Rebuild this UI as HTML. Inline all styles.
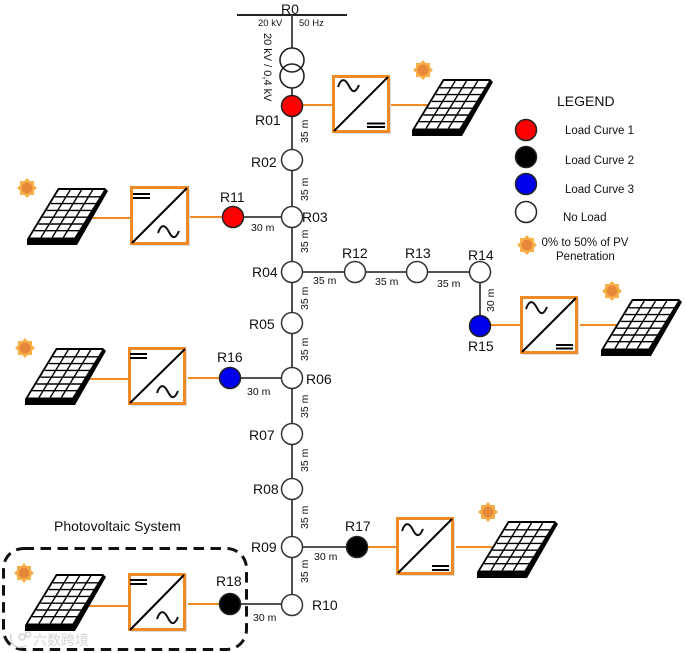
<!DOCTYPE html>
<html><head><meta charset="utf-8"><style>
html,body{margin:0;padding:0;background:#fff;width:685px;height:653px;overflow:hidden}
svg{display:block;filter:blur(.35px)}
text{font-family:"Liberation Sans","Noto Sans CJK SC",sans-serif;fill:#111}
.n{font-size:14px}.d{font-size:10.5px}.l{font-size:11.500px}
</style></head><body>
<svg width="685" height="653" viewBox="0 0 685 653" xmlns="http://www.w3.org/2000/svg">
<defs>
<g id="panel">
<path d="M0 57 L0 51 L31 0 L78 0 L81 3 L50 57 Z" fill="#000"/>
<path d="M3 49.500 L32 2 L77 2 L47.500 49.500 Z" fill="#fff"/>
<g stroke="#000" stroke-width="1.400" fill="none">
<path d="M14 49.500 L43.200 2 M25.200 49.500 L54.500 2 M36.400 49.500 L65.700 2"/>
<path d="M28 8.800 L73 8.800 M24 15.600 L69 15.600 M19.800 22.400 L65 22.400 M15.600 29.200 L60.500 29.200 M11.400 36 L56.300 36 M7.200 42.700 L52 42.700"/>
</g>
</g>
<g id="sun">
<path d="M0 -10 L2.800 -7 L7 -7 L7 -2.800 L10 0 L7 2.800 L7 7 L2.800 7 L0 10 L-2.800 7 L-7 7 L-7 2.800 L-10 0 L-7 -2.800 L-7 -7 L-2.800 -7 Z" fill="#f7b04a"/>
<circle r="5.500" fill="#e8873a"/>
</g>
<path id="w" d="M0 6 C3 -3 7 -3 11 5 C15 13 18 11 21 4" fill="none" stroke="#111" stroke-width="2"/>
</defs>

<!-- lines -->
<g stroke="#3a3a3a" stroke-width="1.800" fill="none">
<path d="M237 15 H347" stroke="#222" stroke-width="2"/>
<path d="M292 15 V48 M292 88 V96 M292 116 V605"/>
<path d="M233 217 H292 M230 378 H292 M292 272 H480 M480 272 V326 M292 547 H357 M230 604 H292"/>
</g>
<!-- orange connectors -->
<g stroke="#f08a24" stroke-width="2" fill="none">
<path d="M302 105 H333 M391 105 H435"/>
<path d="M88 218 H131 M190 217 H223"/>
<path d="M88 379 H129 M188 378 H220"/>
<path d="M490 325 H521 M580 325 H625"/>
<path d="M366 547 H397 M456 547 H500"/>
<path d="M88 606 H129 M188 604 H220"/>
</g>
<!-- panels -->
<use href="#panel" x="412" y="79"/>
<use href="#panel" x="27" y="188"/>
<use href="#panel" x="25" y="348"/>
<use href="#panel" x="601" y="299"/>
<use href="#panel" x="477" y="521"/>
<use href="#panel" x="25" y="574"/>
<!-- suns -->
<use href="#sun" x="423" y="70"/>
<use href="#sun" x="27" y="188"/>
<use href="#sun" x="25" y="348"/>
<use href="#sun" x="612" y="291"/>
<use href="#sun" x="488" y="512"/>
<use href="#sun" x="24" y="573"/>
<use href="#sun" x="527" y="245"/>
<!-- inverters -->
<g fill="#ddd">
<rect x="335" y="78" width="56" height="56"/>
<rect x="133" y="189" width="57" height="57"/>
<rect x="131" y="350" width="56" height="56"/>
<rect x="523" y="298" width="56" height="57"/>
<rect x="399" y="520" width="56" height="56"/>
<rect x="131" y="575" width="56" height="57"/>
</g>
<g fill="#fff" stroke="#f08a24" stroke-width="3">
<rect x="333.500" y="76.500" width="55" height="55"/>
<rect x="131.500" y="187.500" width="56" height="56"/>
<rect x="129.500" y="348.500" width="55" height="55"/>
<rect x="521.500" y="297.500" width="55" height="55"/>
<rect x="397.500" y="518.500" width="55" height="55"/>
<rect x="129.500" y="574.500" width="55" height="55"/>
</g>
<g stroke="#000" stroke-width="2" fill="none">
<path d="M334 131 L388 77"/><path d="M367 123.500 H385 M367 127 H385"/>
<path d="M132 243 L187 188"/><path d="M133 194 H150 M133 198 H150"/>
<path d="M130 403 L185 349"/><path d="M130 354 H147 M130 358 H147"/>
<path d="M522 352 L576 298"/><path d="M556 345 H573 M556 348.500 H573"/>
<path d="M398 573 L452 519"/><path d="M432 566 H449 M432 570 H449"/>
<path d="M130 630 L184 575"/><path d="M130 580 H147 M130 584 H147"/>
</g>
<use href="#w" x="338" y="81"/>
<use href="#w" x="158" y="227"/>
<use href="#w" x="157" y="387"/>
<use href="#w" x="526" y="303"/>
<use href="#w" x="402" y="525"/>
<use href="#w" x="157" y="613"/>
<!-- transformer -->
<g fill="none" stroke="#222" stroke-width="1.600">
<circle cx="292" cy="60" r="12"/><circle cx="292" cy="76" r="12"/>
</g>
<!-- nodes -->
<g stroke="#222" stroke-width="1.500">
<circle cx="292" cy="106" r="10.500" fill="#f00"/>
<circle cx="233" cy="217" r="10.500" fill="#f00"/>
<circle cx="230" cy="378" r="10.500" fill="#00e"/>
<circle cx="480" cy="326" r="10.500" fill="#00e"/>
<circle cx="357" cy="547" r="10.500" fill="#000"/>
<circle cx="230" cy="604" r="10.500" fill="#000"/>
<g fill="#fff" stroke="#333">
<circle cx="292" cy="160" r="10.500"/><circle cx="292" cy="217" r="10.500"/>
<circle cx="292" cy="272" r="10.500"/><circle cx="292" cy="323" r="10.500"/>
<circle cx="292" cy="378" r="10.500"/><circle cx="292" cy="434" r="10.500"/>
<circle cx="292" cy="489" r="10.500"/><circle cx="292" cy="547" r="10.500"/>
<circle cx="292" cy="605" r="10.500"/>
<circle cx="355" cy="272" r="10.500"/><circle cx="417" cy="272" r="10.500"/>
<circle cx="480" cy="272" r="10.500"/>
</g>
</g>
<!-- dashed box -->
<rect x="3.500" y="548.500" width="243" height="101" rx="20" fill="none" stroke="#111" stroke-width="3" stroke-dasharray="10.500 6.500"/>
<!-- node labels -->
<g class="n">
<text x="281" y="14">R0</text><text x="255" y="125">R01</text>
<text x="251" y="167">R02</text><text x="302" y="222">R03</text>
<text x="252" y="277">R04</text><text x="249" y="329">R05</text>
<text x="306" y="384">R06</text><text x="249" y="440">R07</text>
<text x="253" y="494">R08</text><text x="251" y="552">R09</text>
<text x="312" y="610">R10</text><text x="220" y="202">R11</text>
<text x="342" y="258">R12</text><text x="405" y="258">R13</text>
<text x="468" y="260">R14</text><text x="468" y="351">R15</text>
<text x="217" y="362">R16</text><text x="345" y="531">R17</text>
<text x="216" y="586">R18</text>
</g>
<!-- distance labels -->
<text x="258" y="26" font-size="9.500">20 kV</text><text x="299" y="26" font-size="9.500">50 Hz</text>
<g class="d">
<text x="251" y="231">30 m</text><text x="247" y="395">30 m</text>
<text x="313" y="284">35 m</text><text x="375" y="285">35 m</text><text x="437" y="287">35 m</text>
<text x="314" y="560">30 m</text><text x="253" y="621">30 m</text>
</g>
<text transform="translate(264,33) rotate(90)" font-size="11">20 kV / 0,4 kV</text>
<g class="d">
<text transform="translate(308,143) rotate(-90)">35 m</text>
<text transform="translate(308,201) rotate(-90)">35 m</text>
<text transform="translate(308,253) rotate(-90)">35 m</text>
<text transform="translate(308,310) rotate(-90)">35 m</text>
<text transform="translate(308,361) rotate(-90)">35 m</text>
<text transform="translate(308,418) rotate(-90)">35 m</text>
<text transform="translate(308,472) rotate(-90)">35 m</text>
<text transform="translate(308,529) rotate(-90)">35 m</text>
<text transform="translate(308,583) rotate(-90)">35 m</text>
<text transform="translate(494,312) rotate(-90)">30 m</text>
</g>
<text x="54" y="531" font-size="14">Photovoltaic System</text>
<!-- legend -->
<text x="557" y="106" font-size="14">LEGEND</text>
<g stroke="#222" stroke-width="1.500">
<circle cx="526" cy="130" r="10.500" fill="#f00"/>
<circle cx="526" cy="157" r="10.500" fill="#000"/>
<circle cx="526" cy="184" r="10.500" fill="#00e"/>
<circle cx="526" cy="212" r="10.500" fill="#fff"/>
</g>
<g class="l">
<text x="565" y="134">Load Curve 1</text>
<text x="565" y="164">Load Curve 2</text>
<text x="565" y="193">Load Curve 3</text>
<text x="563" y="221">No Load</text>
<text x="541.500" y="246">0% to 50% of PV</text>
<text x="556" y="260">Penetration</text>
</g>
<!-- watermark -->
<path d="M11 634 C9 644 16 650 26 646 M22 634 a3 3 0 1 0 .1 0 M28 632 a2.500 2.500 0 1 0 .1 0" fill="none" stroke="#d5d5d5" stroke-width="1.500"/>
<text x="33" y="645" font-size="14" style="fill:#d4d4d4">六数跨境</text>
</svg>
</body></html>
